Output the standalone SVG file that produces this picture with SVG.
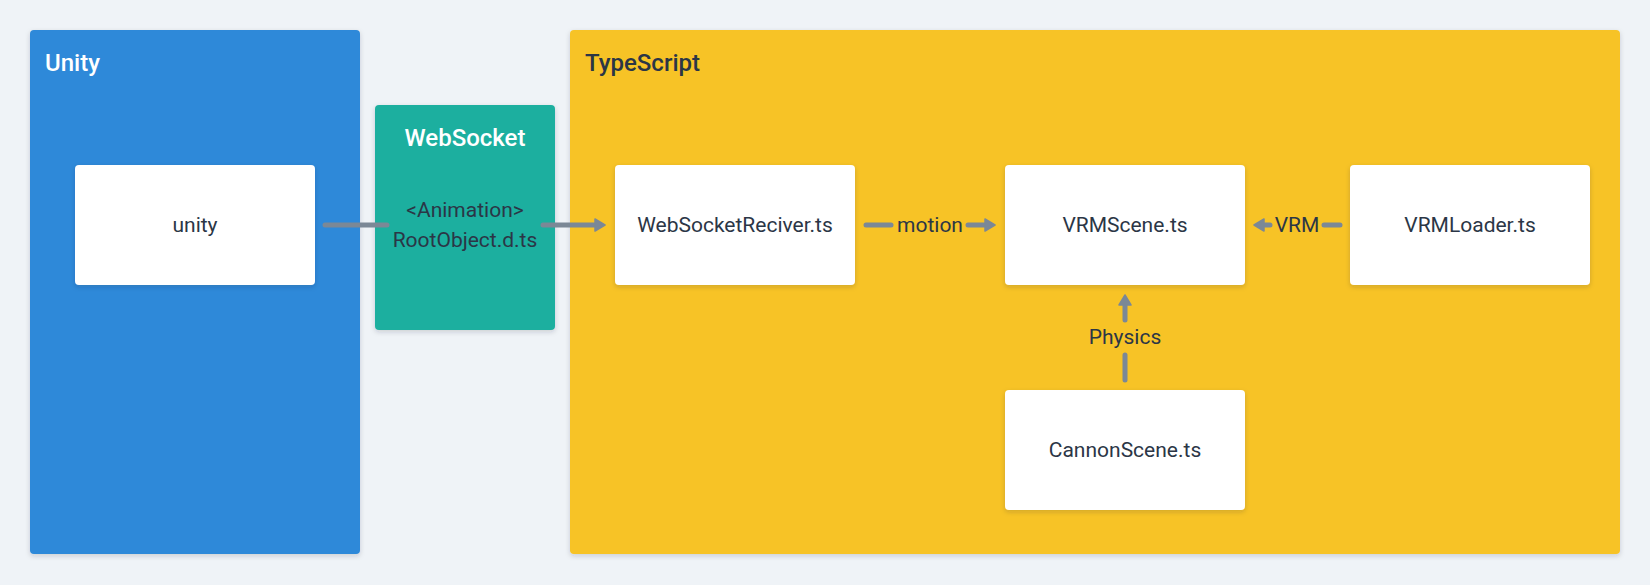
<svg xmlns="http://www.w3.org/2000/svg" width="1650" height="585" viewBox="0 0 1650 585">
<defs>
<filter id="sh" x="-10%" y="-10%" width="120%" height="125%">
<feDropShadow dx="0" dy="2" stdDeviation="2.5" flood-color="#1a2a3a" flood-opacity="0.18"/>
</filter>
<marker id="ah" viewBox="0 0 12 14" refX="6" refY="7" markerWidth="12" markerHeight="14" markerUnits="userSpaceOnUse" orient="auto">
<path d="M1,1 L11,7 L1,13 Z" fill="#7b8896" stroke="#7b8896" stroke-width="1.5" stroke-linejoin="round"/>
</marker>
</defs>
<style>
text{font-family:Roboto,"Noto Sans",sans-serif;}
.title{font-size:24px;font-weight:500;}
.node rect{fill:#ffffff;}
.nt{font-size:21px;fill:#2b3646;text-anchor:middle;}
.lbl{font-size:21px;font-weight:400;fill:#2b3646;text-anchor:middle;}
.conn line{stroke:#7b8896;stroke-width:5;stroke-linecap:round;fill:none;}
</style>
<rect x="0" y="0" width="1650" height="585" fill="#eff3f7"/>
<g id="unity-group">
<rect x="30" y="30" width="330" height="524" rx="4" fill="#2d89d9" filter="url(#sh)"/>
<text x="45" y="71" class="title" fill="#ffffff">Unity</text>
</g>
<g id="websocket">
<rect x="375" y="105" width="180" height="225" rx="4" fill="#1baf9f" filter="url(#sh)"/>
<text x="465" y="146" class="title" fill="#ffffff" text-anchor="middle">WebSocket</text>
<text x="465" y="217" class="nt">&lt;Animation&gt;</text>
<text x="465" y="247" class="nt">RootObject.d.ts</text>
</g>
<g id="typescript-group">
<rect x="570" y="30" width="1050" height="524" rx="4" fill="#f7c325" filter="url(#sh)"/>
<text x="585" y="71" class="title" fill="#2b3646">TypeScript</text>
</g>
<g id="unity" class="node">
<rect x="75" y="165" width="240" height="120" rx="4" filter="url(#sh)"/>
<text x="195" y="232" class="nt">unity</text>
</g>
<g id="websocketreciver" class="node">
<rect x="615" y="165" width="240" height="120" rx="4" filter="url(#sh)"/>
<text x="735" y="232" class="nt">WebSocketReciver.ts</text>
</g>
<g id="vrmscene" class="node">
<rect x="1005" y="165" width="240" height="120" rx="4" filter="url(#sh)"/>
<text x="1125" y="232" class="nt">VRMScene.ts</text>
</g>
<g id="vrmloader" class="node">
<rect x="1350" y="165" width="240" height="120" rx="4" filter="url(#sh)"/>
<text x="1470" y="232" class="nt">VRMLoader.ts</text>
</g>
<g id="cannonscene" class="node">
<rect x="1005" y="390" width="240" height="120" rx="4" filter="url(#sh)"/>
<text x="1125" y="457" class="nt">CannonScene.ts</text>
</g>
<g id="connectors" class="conn">
<line x1="325" y1="225" x2="387" y2="225"/>
<line x1="543" y1="225" x2="600" y2="225" marker-end="url(#ah)"/>
<line x1="866" y1="225" x2="891" y2="225"/>
<text x="930" y="232" class="lbl">motion</text>
<line x1="968" y1="225" x2="990" y2="225" marker-end="url(#ah)"/>
<line x1="1340" y1="225" x2="1324" y2="225"/>
<text x="1297" y="232" class="lbl">VRM</text>
<line x1="1270" y1="225" x2="1259" y2="225" marker-end="url(#ah)"/>
<line x1="1125" y1="380" x2="1125" y2="355"/>
<text x="1125" y="344" class="lbl">Physics</text>
<line x1="1125" y1="320" x2="1125" y2="300" marker-end="url(#ah)"/>
</g>
</svg>
